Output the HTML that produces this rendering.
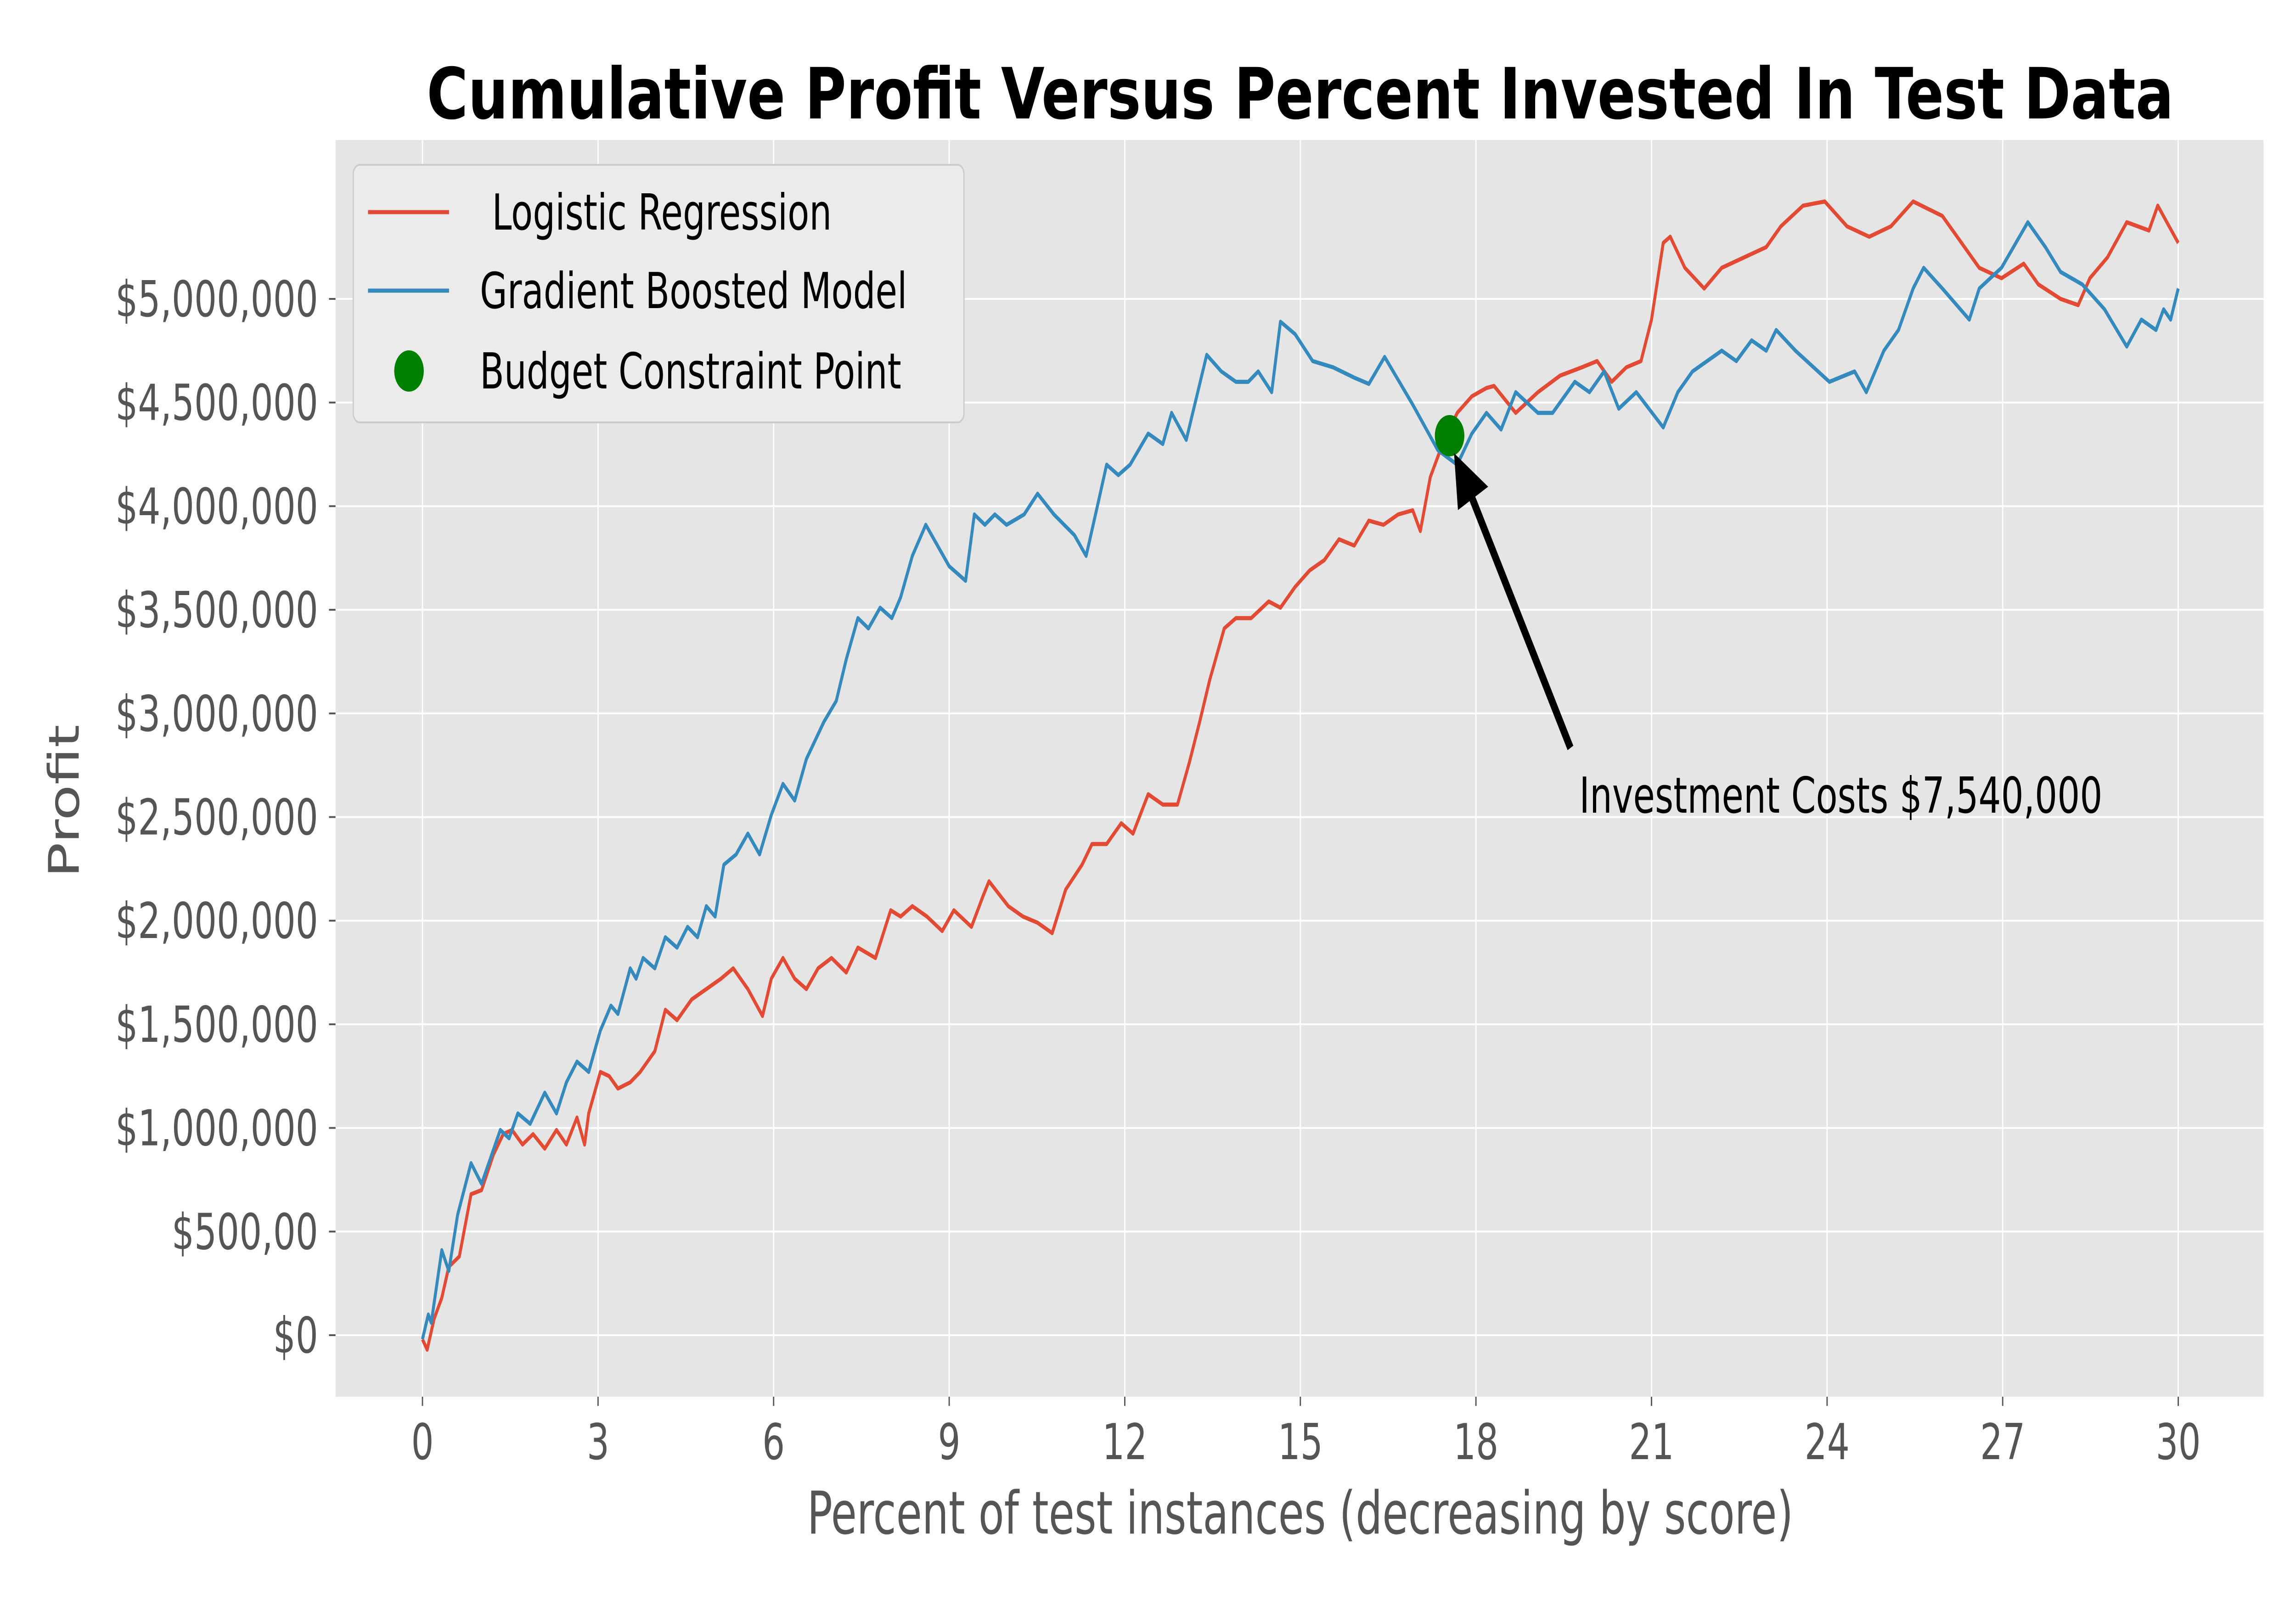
<!DOCTYPE html>
<html><head><meta charset="utf-8"><style>
html,body{margin:0;padding:0;background:#fff;overflow:hidden;width:100vw;height:100vh}
svg{display:block;width:100vw;height:100vh;font-family:"DejaVu Sans","Liberation Sans",sans-serif}
</style></head><body>
<svg id="chart" viewBox="0 0 7000 3500" preserveAspectRatio="none" xmlns="http://www.w3.org/2000/svg">
<text x="3964" y="258" text-anchor="middle" font-size="154" font-weight="bold" fill="#000" textLength="5326" lengthAdjust="spacingAndGlyphs">Cumulative Profit Versus Percent Invested In Test Data</text>
<rect x="1023" y="305" width="5878" height="2737" fill="#E5E5E5"/>
<g id="grid"></g>
<g id="ticks"></g>
<g id="series"></g>
<text x="3964" y="3340" text-anchor="middle" font-size="128" fill="#555">Percent of test instances (decreasing by score)</text>
<text transform="translate(240,1745) rotate(-90)" text-anchor="middle" font-size="128" fill="#555">Profit</text>
<g>
<rect x="1077" y="359" width="1862" height="561" rx="20" fill="#EBEBEB" stroke="#CCCCCC" stroke-width="4"/>
<line x1="1122" y1="462" x2="1369" y2="462" stroke="#E24A33" stroke-width="9"/>
<text x="1500" y="500" font-size="108" fill="#000">Logistic Regression</text>
<line x1="1122" y1="633" x2="1369" y2="633" stroke="#348ABD" stroke-width="9"/>
<text x="1463" y="671" font-size="108" fill="#000">Gradient Boosted Model</text>
<circle cx="1247" cy="808" r="45" fill="#008000"/>
<text x="1463" y="846" font-size="108" fill="#000">Budget Constraint Point</text>
</g>
<g>
<line x1="4788" y1="1629" x2="4480" y2="1070" stroke="#000" stroke-width="20"/>
<polygon points="4433,987 4537,1060 4445,1111" fill="#000"/>
<text x="4815" y="1770" font-size="108" fill="#000">Investment Costs $7,540,000</text>
</g>
</svg>
<script>
const xTicks=[0,3,6,9,12,15,18,21,24,27,30];
const yTicks=[0,500,1000,1500,2000,2500,3000,3500,4000,4500,5000];
const yTickLabels=["$0","$500,00","$1,000,000","$1,500,000","$2,000,000","$2,500,000","$3,000,000","$3,500,000","$4,000,000","$4,500,000","$5,000,000"];
const gbmX=[0,0.10,0.15,0.33,0.45,0.60,0.83,1.01,1.33,1.48,1.63,1.84,2.09,2.29,2.46,2.64,2.84,3.04,3.22,3.34,3.55,3.65,3.77,3.97,4.15,4.35,4.53,4.70,4.85,5.00,5.15,5.36,5.56,5.76,5.96,6.16,6.36,6.56,6.86,7.07,7.24,7.44,7.62,7.82,8.02,8.17,8.37,8.60,9.00,9.28,9.43,9.61,9.78,9.98,10.28,10.51,10.79,11.14,11.34,11.54,11.69,11.89,12.09,12.40,12.65,12.80,13.05,13.40,13.65,13.90,14.11,14.28,14.51,14.66,14.91,15.21,15.56,15.92,16.17,16.44,16.92,17.35,17.68,17.93,18.18,18.43,18.68,19.06,19.31,19.69,19.94,20.19,20.44,20.74,21.20,21.45,21.70,21.95,22.20,22.45,22.71,22.96,23.13,23.46,24.04,24.47,24.67,24.97,25.22,25.47,25.65,25.97,26.43,26.60,26.98,27.43,27.73,27.99,28.36,28.74,29.12,29.37,29.62,29.75,29.87,30.00];
const gbmY=[-20,100,60,410,310,580,830,730,990,950,1070,1020,1170,1070,1220,1320,1270,1470,1590,1550,1770,1720,1820,1770,1920,1870,1970,1920,2070,2020,2270,2320,2420,2320,2510,2660,2580,2780,2960,3060,3260,3460,3410,3510,3460,3560,3760,3910,3710,3640,3960,3910,3960,3910,3960,4060,3960,3860,3760,4010,4200,4150,4200,4350,4300,4450,4320,4730,4650,4600,4600,4650,4550,4890,4830,4700,4670,4620,4590,4720,4490,4270,4200,4350,4450,4370,4550,4450,4450,4600,4550,4650,4470,4550,4380,4550,4650,4700,4750,4700,4800,4750,4850,4750,4600,4650,4550,4750,4850,5050,5150,5050,4900,5050,5150,5370,5250,5130,5070,4950,4770,4900,4850,4950,4900,5050];
const lrX=[0,0.08,0.20,0.33,0.45,0.63,0.83,1.01,1.21,1.38,1.53,1.71,1.89,2.09,2.29,2.46,2.64,2.77,2.84,3.04,3.19,3.34,3.55,3.72,3.97,4.15,4.35,4.60,4.85,5.10,5.31,5.56,5.81,5.96,6.16,6.36,6.56,6.76,6.99,7.24,7.44,7.74,8.00,8.17,8.37,8.62,8.88,9.08,9.38,9.58,9.68,10.01,10.26,10.51,10.76,10.99,11.27,11.44,11.69,11.94,12.14,12.40,12.65,12.90,13.10,13.28,13.45,13.70,13.90,14.16,14.46,14.66,14.91,15.16,15.41,15.66,15.92,16.17,16.42,16.67,16.92,17.05,17.22,17.43,17.68,17.93,18.18,18.31,18.68,19.06,19.44,19.81,20.07,20.32,20.57,20.82,21.00,21.20,21.32,21.57,21.90,22.20,22.58,22.96,23.21,23.59,23.96,24.34,24.72,25.09,25.47,25.97,26.60,26.98,27.36,27.61,27.99,28.29,28.49,28.79,29.12,29.50,29.65,30.00];
const lrY=[-20,-70,80,180,330,380,680,700,870,970,990,920,970,900,990,920,1050,920,1070,1270,1250,1190,1220,1270,1370,1570,1520,1620,1670,1720,1770,1670,1540,1720,1820,1720,1670,1770,1820,1750,1870,1820,2050,2020,2070,2020,1950,2050,1970,2120,2190,2070,2020,1990,1940,2150,2270,2370,2370,2470,2420,2610,2560,2560,2760,2960,3160,3410,3460,3460,3540,3510,3610,3690,3740,3840,3810,3930,3910,3960,3980,3880,4140,4300,4450,4530,4570,4580,4450,4550,4630,4670,4700,4600,4670,4700,4900,5270,5300,5150,5050,5150,5200,5250,5350,5450,5470,5350,5300,5350,5470,5400,5150,5100,5170,5070,5000,4970,5100,5200,5370,5330,5450,5270];
const budgetX=[17.55];
const budgetY=[4340];

const NS="http://www.w3.org/2000/svg";
const sx=v=>1288+v*(6641-1288)/30;
const sy=v=>2908-v*(2908-651)/5000;
function mk(tag,attrs,parent){const e=document.createElementNS(NS,tag);for(const k in attrs)e.setAttribute(k,attrs[k]);parent.appendChild(e);return e;}
const grid=document.getElementById('grid'),ticks=document.getElementById('ticks'),series=document.getElementById('series');
xTicks.forEach((t,i)=>{
  const x=sx(t);
  const g=mk('line',{x1:x,y1:305,x2:x,y2:3042,stroke:'#fff','stroke-width':4},grid);
  
  
  const tk=mk('line',{x1:x,y1:3042,x2:x,y2:3062,stroke:'#555','stroke-width':4},ticks);
  
  
  const tx=mk('text',{x:x,y:3178,'text-anchor':'middle','font-size':108,fill:'#555'},ticks);
  tx.textContent=String(t);
  
  
});
yTicks.forEach((t,i)=>{
  const y=sy(t);
  const g=mk('line',{x1:1023,y1:y,x2:6901,y2:y,stroke:'#fff','stroke-width':4},grid);
  
  
  const tk=mk('line',{x1:1003,y1:y,x2:1023,y2:y,stroke:'#555','stroke-width':4},ticks);
  
  
  const tx=mk('text',{x:970,y:y+38,'text-anchor':'end','font-size':108,fill:'#555'},ticks);
  tx.textContent=yTickLabels[i];
  
  
});
function pts(xs,ys){return xs.map((v,i)=>sx(v).toFixed(1)+','+sy(ys[i]).toFixed(1)).join(' ');}
const l1=mk('polyline',{points:pts(lrX,lrY),fill:'none',stroke:'#E24A33','stroke-width':9,'stroke-linejoin':'round'},series);


const l2=mk('polyline',{points:pts(gbmX,gbmY),fill:'none',stroke:'#348ABD','stroke-width':9,'stroke-linejoin':'round'},series);


const c=mk('circle',{cx:sx(budgetX[0]),cy:sy(budgetY[0]),r:45,fill:'#008000'},series);


</script>
</body></html>
